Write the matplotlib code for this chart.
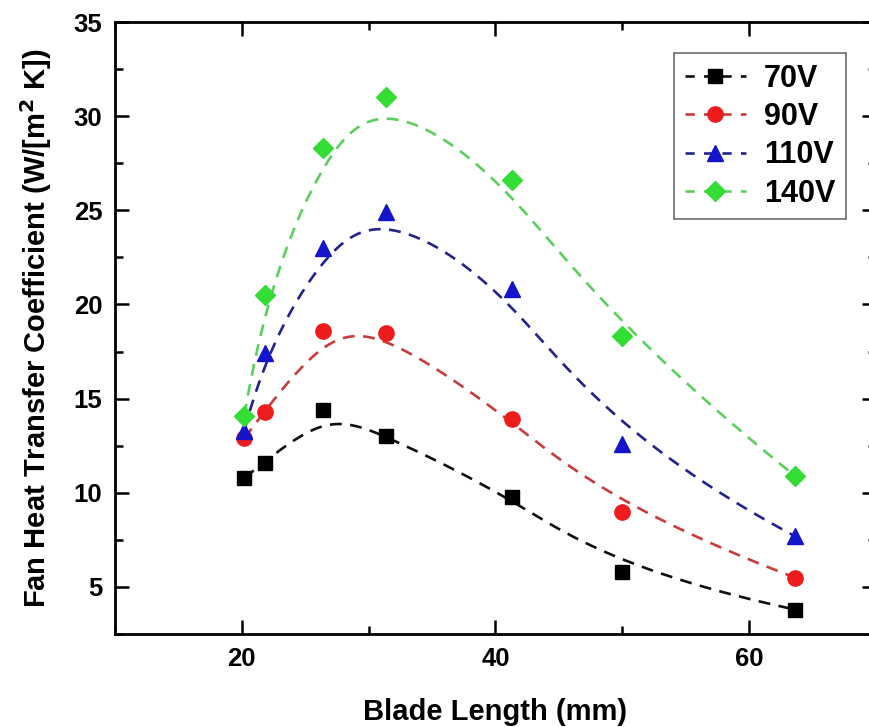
import numpy as np
import matplotlib
matplotlib.use("Agg")
import matplotlib.pyplot as plt
from matplotlib.ticker import MultipleLocator

plt.rcParams['font.family'] = ['Liberation Sans', 'DejaVu Sans']
plt.rcParams['font.weight'] = 'bold'
plt.rcParams['mathtext.default'] = 'bf'

# blade length (mm)
blade_len = [20.2, 21.8, 26.4, 31.4, 41.3, 50.0, 63.6]
# heat transfer coefficient per voltage
h_70v = [10.8, 11.6, 14.4, 13.0, 9.8, 5.8, 3.8]
h_90v = [12.9, 14.3, 18.6, 18.5, 13.9, 9.0, 5.5]
h_110v = [13.3, 17.4, 23.0, 24.9, 20.8, 12.6, 7.7]
h_140v = [14.1, 20.5, 28.3, 31.0, 26.6, 18.3, 10.9]
labels = ["70V", "90V", "110V", "140V"]

series = [h_70v, h_90v, h_110v, h_140v]
colors = ["#000000", "#ee1c1c", "#1414cc", "#33dd33"]
line_colors = ["#111111", "#c83c3c", "#23238f", "#5cd05c"]
markers = ["s", "o", "^", "D"]
msizes = [9.5, 11, 11.5, 10]


def bspline(px, py, k=3, num=400):
    # clamped uniform B-spline using the points as control polygon
    px, py = np.asarray(px, float), np.asarray(py, float)
    n = len(px)
    knots = np.concatenate([np.zeros(k), np.arange(n - k + 1), np.full(k, n - k)]).astype(float)
    t = np.linspace(0, n - k, num)
    t[-1] -= 1e-9
    B = np.array([(knots[i] <= t) & (t < knots[i + 1]) for i in range(len(knots) - 1)], float)
    for d in range(1, k + 1):
        Bn = np.zeros((len(knots) - 1 - d, len(t)))
        for i in range(len(knots) - 1 - d):
            den1 = knots[i + d] - knots[i]
            den2 = knots[i + d + 1] - knots[i + 1]
            a = (t - knots[i]) / den1 * B[i] if den1 > 0 else 0
            b = (knots[i + d + 1] - t) / den2 * B[i + 1] if den2 > 0 else 0
            Bn[i] = a + b
        B = Bn
    return B.T @ px, B.T @ py


fig = plt.figure(figsize=(8.69, 7.27), dpi=100)
ax = fig.add_axes([0.1323, 0.1279, 0.8757, 0.8418])

for ys, lab, c, lc, m, ms in zip(series, labels, colors, line_colors, markers, msizes):
    cx, cy = bspline(blade_len, ys)
    ax.plot(cx, cy, color=lc, lw=1.9, dashes=(4.5, 3.2), zorder=2)
    ax.plot(blade_len, ys, linestyle="none", marker=m, ms=ms, color=c, mec=c, zorder=3)
    # legend handle
    ax.plot([], [], color=lc, lw=1.9, dashes=(3.5, 3.5), marker=m, ms=ms,
            mfc=c, mec=c, label=lab)

ax.set_xlim(10, 70)
ax.set_ylim(2.5, 35)
ax.xaxis.set_major_locator(MultipleLocator(20))
ax.xaxis.set_minor_locator(MultipleLocator(10))
ax.yaxis.set_minor_locator(MultipleLocator(2.5))
ax.set_yticks([5, 10, 15, 20, 25, 30, 35])
ax.tick_params(which="both", direction="in", top=True, right=True, width=1.8)
ax.tick_params(which="major", length=10, labelsize=18.5, pad=9)
ax.tick_params(which="minor", length=6)
for lbl in ax.get_xticklabels() + ax.get_yticklabels():
    lbl.set_fontweight("bold")
for sp in ax.spines.values():
    sp.set_linewidth(2)

ax.set_xlabel("Blade Length (mm)", fontsize=21, fontweight="bold", labelpad=20)
ax.set_ylabel("Fan Heat Transfer Coefficient (W/[m$^2$ K])", fontsize=21,
              fontweight="bold", labelpad=14)

leg = ax.legend(loc="upper left", bbox_to_anchor=(0.7346, 0.949), fontsize=22,
                handlelength=2.0, handletextpad=0.6, borderpad=0.35,
                borderaxespad=0, labelspacing=0.27, fancybox=False, framealpha=1)
leg.get_frame().set_edgecolor("#777777")
leg.get_frame().set_linewidth(1.3)
for t in leg.get_texts():
    t.set_fontweight("bold")

fig.savefig("out.png", dpi=100)
